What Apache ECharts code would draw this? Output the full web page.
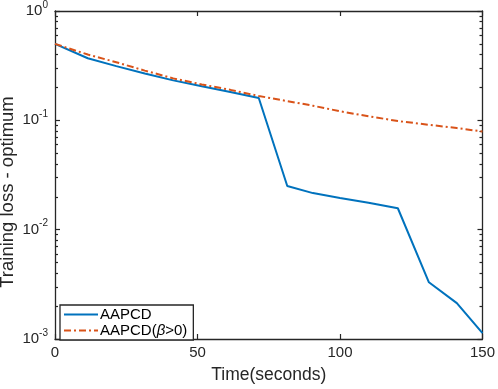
<!DOCTYPE html>
<html>
<head>
<meta charset="utf-8">
<script src="https://cdn.jsdelivr.net/npm/echarts@6/dist/echarts.min.js"></script>
<style>
  html, body { margin: 0; padding: 0; background: #fff; }
  #chart { width: 498px; height: 389px; }
</style>
</head>
<body>
<div id="chart"></div>
<script>
// time stamps (seconds) of the recorded iterations
var timeSec = [0, 11.5, 21.5, 31.5, 41.5, 51.5, 61.5, 71.5, 81.5, 90.5, 100, 110, 120.3, 131.2, 141, 150];
// training loss - optimum
var lossAAPCD = [0.50, 0.37, 0.313, 0.268, 0.232, 0.205, 0.182, 0.160, 0.0251, 0.0216, 0.0195, 0.0176, 0.0157, 0.0033, 0.00213, 0.00113];
var lossBeta = [0.50, 0.40, 0.34, 0.285, 0.242, 0.213, 0.19, 0.167, 0.15, 0.136, 0.121, 0.109, 0.0986, 0.091, 0.085, 0.079];

var xTicks = [0, 50, 100, 150];
var yMajor = [0.001, 0.01, 0.1, 1];
var yMinor = [];
yMajor.slice(0, 3).forEach(function (d) {
  for (var k = 2; k <= 9; k++) yMinor.push(+(d * k).toPrecision(3));
});

var axisColor = '#262626';
var font = 'Liberation Sans, Arial, Helvetica, sans-serif';

function pairs(xs, ys) {
  return xs.map(function (x, i) { return [x, ys[i]]; });
}

function logAxis(pos, ticks, len, labels, line) {
  return {
    type: 'log', min: 0.001, max: 1, logBase: 10, position: pos,
    axisLine: { show: line, lineStyle: { color: axisColor, width: 1.3 } },
    axisTick: { show: true, inside: true, length: len, customValues: ticks,
      lineStyle: { color: axisColor, width: 1.2 } },
    minorTick: { show: false },
    splitLine: { show: false },
    axisLabel: labels ? {
      show: true, customValues: ticks, margin: 7,
      formatter: function (v) {
        var e = Math.round(Math.log10(v));
        return '{b|10}{s|' + e + '}';
      },
      rich: {
        b: { fontSize: 15, fontFamily: font, color: axisColor, lineHeight: 15 },
        s: { fontSize: 10, fontFamily: font, color: axisColor, padding: [0, 0, 12, 0] }
      }
    } : { show: false }
  };
}

var chart = echarts.init(document.getElementById('chart'), null, { renderer: 'canvas' });

chart.setOption({
  animation: false,
  backgroundColor: '#fff',
  grid: { left: 55, right: 13, top: 10, bottom: 44, containLabel: false },
  xAxis: [
    {
      type: 'value', min: 0, max: 150, interval: 50, position: 'bottom',
      name: 'Time(seconds)', nameLocation: 'middle', nameGap: 27,
      nameTextStyle: { fontSize: 17.5, fontFamily: font, color: axisColor },
      axisLine: { lineStyle: { color: axisColor, width: 1.3 } },
      axisTick: { inside: true, length: 5, lineStyle: { color: axisColor, width: 1.2 } },
      axisLabel: { fontSize: 15, fontFamily: font, color: axisColor, margin: 6,
        customValues: xTicks },
      splitLine: { show: false }
    },
    {
      type: 'value', min: 0, max: 150, interval: 50, position: 'top',
      axisLine: { lineStyle: { color: axisColor, width: 1.3 } },
      axisTick: { inside: true, length: 5, lineStyle: { color: axisColor, width: 1.2 } },
      axisLabel: { show: false },
      splitLine: { show: false }
    }
  ],
  yAxis: [
    logAxis('left', yMajor, 5, true, true),
    logAxis('left', yMinor, 3, false, false),
    logAxis('right', yMajor, 5, false, true),
    logAxis('right', yMinor, 3, false, false)
  ],
  legend: {
    orient: 'vertical', left: 60, top: 305,
    padding: [2, 6, 2, 3], itemGap: 1,
    itemWidth: 34, itemHeight: 14,
    backgroundColor: '#fff',
    borderColor: '#262626', borderWidth: 1.3, borderRadius: 0,
    itemStyle: { opacity: 0 },
    textStyle: { fontSize: 15, fontFamily: font, color: '#000', padding: [0, 0, 0, -3],
      rich: { i: { fontStyle: 'italic', fontSize: 15, fontFamily: font, color: '#000' } } },
    formatter: function (name) { return name.replace('β', '{i|β}'); },
    data: ['AAPCD', 'AAPCD(β>0)']
  },
  graphic: [{
    type: 'text', x: 8, y: 192, rotation: Math.PI / 2,
    style: { text: 'Training loss - optimum', fontSize: 18.5, fontFamily: font,
      fill: axisColor, align: 'center', verticalAlign: 'middle' }
  }],
  series: [
    {
      name: 'AAPCD', type: 'line', xAxisIndex: 0, yAxisIndex: 0,
      data: pairs(timeSec, lossAAPCD), symbol: 'none', smooth: false,
      lineStyle: { color: '#0072BD', width: 2 }, itemStyle: { color: '#0072BD' }
    },
    {
      name: 'AAPCD(β>0)', type: 'line', xAxisIndex: 0, yAxisIndex: 0,
      data: pairs(timeSec, lossBeta), symbol: 'none', smooth: false,
      lineStyle: { color: '#D95319', width: 2, type: [7, 3, 2, 3] }, itemStyle: { color: '#D95319' }
    }
  ]
});
</script>
</body>
</html>
